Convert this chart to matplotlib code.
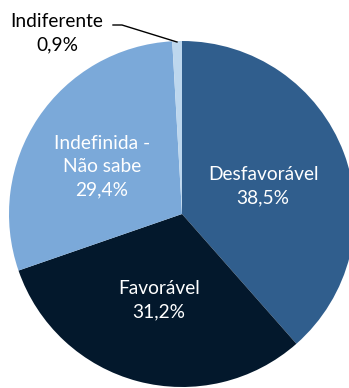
import matplotlib.pyplot as plt

# opinião sobre o tema (%)
labels = ["Desfavorável", "Favorável", "Indefinida -\nNão sabe", "Indiferente"]
values = [38.5, 31.2, 29.4, 0.9]
colors = ["#305E8D", "#03182C", "#7BA9D9", "#BDD7EE"]

W, H = 349, 388
fig = plt.figure(figsize=(W / 100, H / 100), dpi=100)
ax = fig.add_axes([0, 0, 1, 1])

cx, cy, r = 182, H - 214, 173
ax.pie(values, colors=colors, startangle=90, counterclock=False,
       center=(cx, cy), radius=r, frame=True,
       wedgeprops=dict(linewidth=0))
ax.set_xlim(0, W)
ax.set_ylim(0, H)
ax.set_aspect("equal")
ax.axis("off")

def pct(v):
    return f"{v:.1f}%".replace(".", ",")

font = dict(family="Lato", fontsize=13.8, ha="center", va="center", linespacing=1.45)

# rótulos dentro das fatias (posições em px a partir do topo)
pos = [(263, 186), (159, 300), (102, 167)]
for (x, y), lab, v in zip(pos, labels[:3], values[:3]):
    ax.text(x, H - y, f"{lab}\n{pct(v)}", color="white", **font)

# fatia pequena com linha guia
ax.text(57, H - 33, f"{labels[3]}\n{pct(values[3])}", color="black", **font)
ax.plot([113, 122, 177], [H - 25, H - 25, H - 42], color="black", lw=1)

fig.savefig("out.png", dpi=100)
